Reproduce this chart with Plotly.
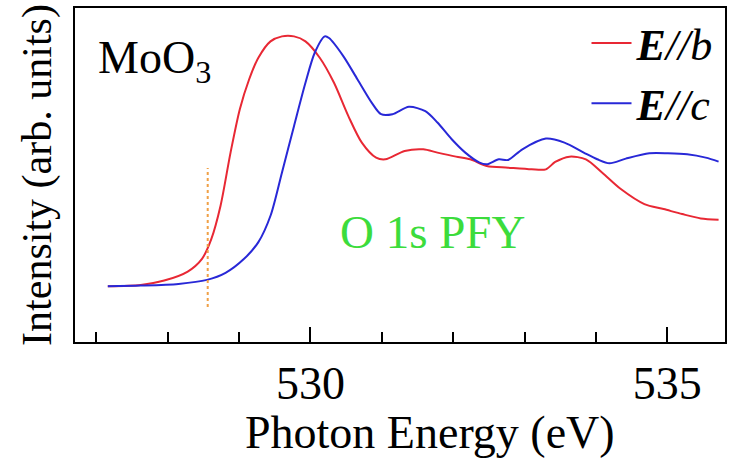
import plotly.graph_objects as go

# E//b (red)
eb_x = [527.16, 527.62, 527.95, 528.28, 528.48, 528.61, 528.74, 528.88, 529.01, 529.14,
        529.27, 529.44, 529.60, 529.77, 529.93, 530.13, 530.33, 530.53, 530.72, 530.92,
        531.05, 531.32, 531.58, 531.78, 532.04, 532.24, 532.47, 532.77, 533.10, 533.30,
        533.43, 533.63, 533.86, 534.09, 534.35, 534.68, 534.95, 535.21, 535.47, 535.72]
eb_y = [0.167, 0.171, 0.184, 0.211, 0.249, 0.308, 0.408, 0.567, 0.697, 0.786,
        0.851, 0.900, 0.915, 0.915, 0.900, 0.851, 0.776, 0.677, 0.597, 0.552,
        0.547, 0.572, 0.577, 0.567, 0.555, 0.547, 0.527, 0.522, 0.517, 0.517,
        0.539, 0.555, 0.547, 0.507, 0.458, 0.413, 0.398, 0.383, 0.370, 0.366]

# E//c (blue)
ec_x = [527.16, 527.62, 528.15, 528.55, 528.81, 529.07, 529.27, 529.44, 529.60, 529.77,
        529.93, 530.06, 530.20, 530.26, 530.46, 530.66, 530.86, 530.99, 531.15, 531.38,
        531.61, 531.78, 531.98, 532.17, 532.37, 532.47, 532.64, 532.77, 532.97, 533.30,
        533.56, 533.83, 534.02, 534.19, 534.42, 534.75, 535.01, 535.28, 535.54, 535.72]
ec_y = [0.167, 0.169, 0.174, 0.186, 0.207, 0.249, 0.299, 0.378, 0.507, 0.647,
        0.776, 0.866, 0.915, 0.910, 0.856, 0.786, 0.716, 0.682, 0.682, 0.704,
        0.691, 0.657, 0.607, 0.567, 0.537, 0.532, 0.547, 0.545, 0.577, 0.609,
        0.597, 0.567, 0.547, 0.535, 0.549, 0.565, 0.565, 0.562, 0.552, 0.540]

# onset marker (dotted)
onset_x = [528.56, 528.56]
onset_y = [0.105, 0.521]

x_range = [526.7, 535.81]
y_range = [0, 1]

FONT = "Times New Roman, Liberation Serif, Tinos, Times, serif"

fig = go.Figure()
fig.add_trace(go.Scatter(x=eb_x, y=eb_y, mode="lines", name="<b><i>E</i></b><i>//b</i>",
                         line=dict(color="rgb(232,40,52)", width=2, shape="spline", smoothing=0.8)))
fig.add_trace(go.Scatter(x=ec_x, y=ec_y, mode="lines", name="<b><i>E</i></b><i>//c</i>",
                         line=dict(color="rgb(40,40,215)", width=2, shape="spline", smoothing=0.8)))
fig.add_trace(go.Scatter(x=onset_x, y=onset_y, mode="lines", showlegend=False,
                         line=dict(color="rgb(240,160,70)", width=2, dash="dot")))

fig.add_annotation(x=0.032, y=0.84, xref="paper", yref="paper", xanchor="left", yanchor="middle",
                   text="MoO<sub>3</sub>", showarrow=False,
                   font=dict(family=FONT, size=46, color="black"))
fig.add_annotation(x=0.55, y=0.33, xref="paper", yref="paper", xanchor="center", yanchor="middle",
                   text="O 1s PFY", showarrow=False,
                   font=dict(family=FONT, size=47, color="rgb(60,220,60)"))
# x-axis title (placed slightly right of centre, as in the reference)
fig.add_annotation(x=0.546, y=-0.272, xref="paper", yref="paper", xanchor="center", yanchor="middle",
                   text="Photon Energy (eV)", showarrow=False,
                   font=dict(family=FONT, size=46, color="black"))

fig.update_layout(
    width=731, height=461,
    margin=dict(l=75, r=4, t=8, b=119),
    paper_bgcolor="white", plot_bgcolor="white",
    font=dict(family=FONT, color="black"),
    showlegend=True,
    legend=dict(x=0.99, y=1.0, xanchor="right", yanchor="top",
                bgcolor="rgba(0,0,0,0)", font=dict(family=FONT, size=44),
                itemwidth=40, tracegroupgap=0),
    xaxis=dict(range=x_range, showgrid=False, zeroline=False,
               showline=True, linecolor="black", linewidth=2, mirror=True,
               ticks="inside", ticklen=15, tickwidth=2, tickcolor="black",
               tick0=530, dtick=5, tickfont=dict(family=FONT, size=46),
               minor=dict(dtick=1, ticks="inside", ticklen=10, tickwidth=2, tickcolor="black")),
    yaxis=dict(range=y_range, showgrid=False, zeroline=False,
               showline=True, linecolor="black", linewidth=2, mirror=True,
               ticks="", showticklabels=False,
               title=dict(text="Intensity (arb. units)", font=dict(family=FONT, size=42), standoff=8)),
)

fig.write_html("out.html")
